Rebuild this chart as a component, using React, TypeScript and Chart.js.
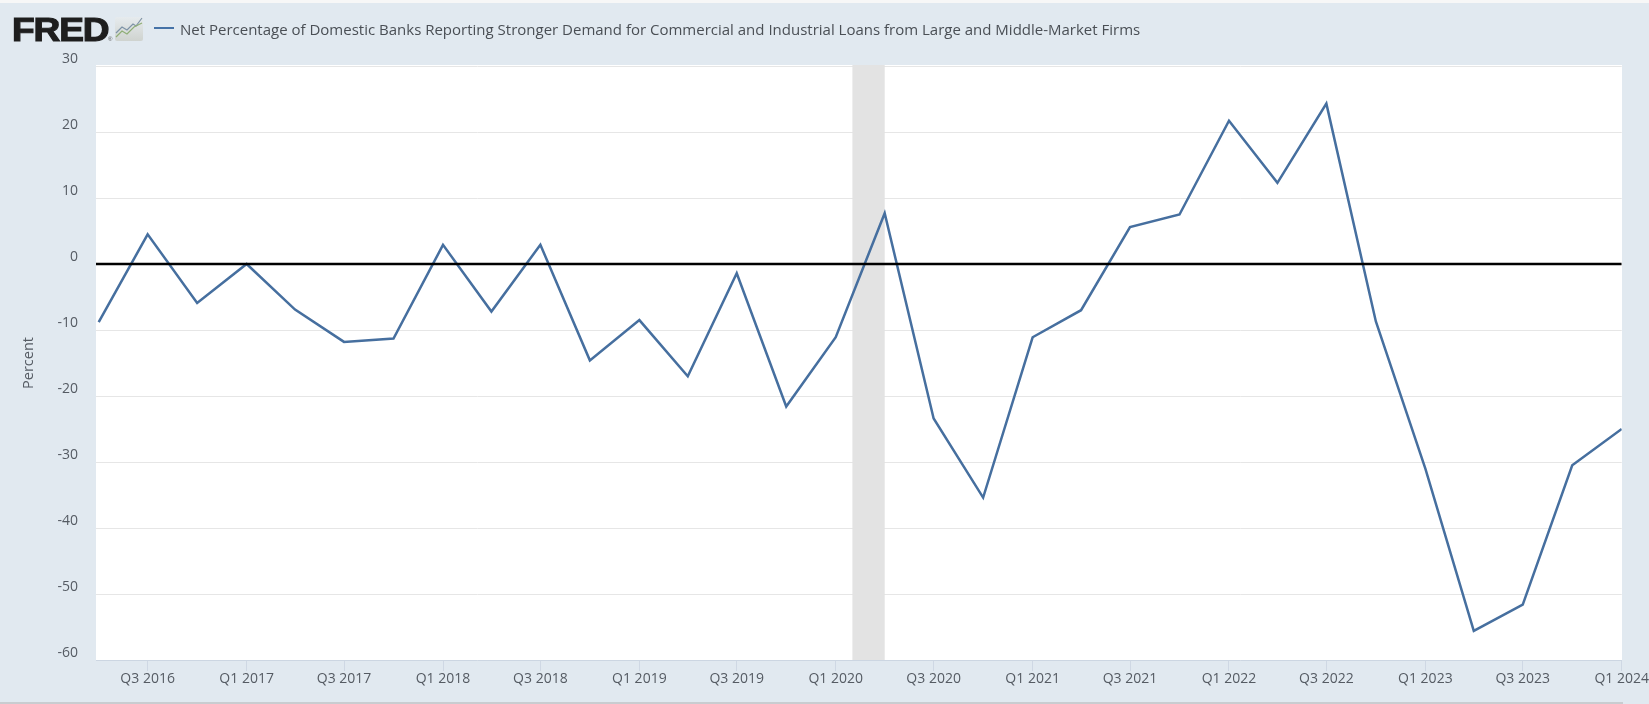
import React, { useEffect, useRef } from "react";
import { Chart, registerables } from "chart.js";

Chart.register(...registerables);

const quarters = [
  "Q2 2016","Q3 2016","Q4 2016","Q1 2017","Q2 2017","Q3 2017","Q4 2017","Q1 2018",
  "Q2 2018","Q3 2018","Q4 2018","Q1 2019","Q2 2019","Q3 2019","Q4 2019","Q1 2020",
  "Q2 2020","Q3 2020","Q4 2020","Q1 2021","Q2 2021","Q3 2021","Q4 2021","Q1 2022",
  "Q2 2022","Q3 2022","Q4 2022","Q1 2023","Q2 2023","Q3 2023","Q4 2023","Q1 2024",
];
const values = [
  -8.8, 4.5, -5.9, 0, -6.9, -11.8, -11.3, 2.9,
  -7.2, 2.9, -14.6, -8.5, -17, -1.4, -21.6, -11.1,
  7.7, -23.4, -35.4, -11.1, -7.0, 5.6, 7.5, 21.7,
  12.3, 24.3, -8.7, -31, -55.6, -51.6, -30.5, -25,
];
const tickLabels = [
  "Q3 2016","Q1 2017","Q3 2017","Q1 2018","Q3 2018","Q1 2019","Q3 2019","Q1 2020",
  "Q3 2020","Q1 2021","Q3 2021","Q1 2022","Q3 2022","Q1 2023","Q3 2023","Q1 2024",
];
const yTicks = [30, 20, 10, 0, -10, -20, -30, -40, -50, -60];
const recession = [Date.UTC(2020, 1, 1), Date.UTC(2020, 3, 1)];
const seriesName =
  "Net Percentage of Domestic Banks Reporting Stronger Demand for Commercial and Industrial Loans from Large and Middle-Market Firms";

const quarterTime = (q: string) => {
  const [p, y] = q.split(" ");
  return Date.UTC(Number(y), (Number(p[1]) - 1) * 3, 1);
};

const FONT = '"Open Sans", sans-serif';
const BG = "#e1e9f0";
const TEXT = "#555b63";

const backdrop = {
  id: "backdrop",
  beforeDatasetsDraw(chart: any) {
    const { ctx, chartArea: a, scales } = chart;
    ctx.save();
    ctx.fillStyle = "#e3e3e3";
    const x0 = scales.x.getPixelForValue(recession[0]);
    const x1 = scales.x.getPixelForValue(recession[1]);
    ctx.fillRect(x0, a.top - 1, x1 - x0, a.bottom - a.top + 1);
    ctx.restore();
  },
};

export default function App() {
  const ref = useRef<HTMLCanvasElement>(null);
  useEffect(() => {
    const times = quarters.map(quarterTime);
    const points = times.map((t, i) => ({ x: t, y: values[i] }));
    const min = times[0] - 5 * 86400000;
    const max = times[times.length - 1];
    const chart = new Chart(ref.current!, {
      type: "line",
      data: {
        datasets: [
          {
            label: seriesName,
            data: points,
            borderColor: "#466f9f",
            borderWidth: 2.5,
            pointRadius: 0,
            tension: 0,
            order: 1,
          },
          {
            label: "Zero",
            data: [{ x: min, y: 0 }, { x: max, y: 0 }],
            borderColor: "#000000",
            borderWidth: 2.4,
            pointRadius: 0,
            order: 0,
          },
        ],
      },
      options: {
        animation: false,
        responsive: false,
        layout: { padding: { top: 66, right: 27, left: 0, bottom: 0 } },
        plugins: { legend: { display: false }, tooltip: { enabled: false } },
        scales: {
          x: {
            type: "linear",
            min,
            max,
            afterBuildTicks(s: any) {
              s.ticks = tickLabels.map((l) => ({ value: quarterTime(l), label: l }));
            },
            afterFit(s: any) {
              s.height = 44;
            },
            grid: {
              drawOnChartArea: false,
              drawTicks: true,
              tickLength: 11,
              color: "#cfd8e4",
            },
            border: { color: "#ccd6e2", width: 1 },
            ticks: {
              autoSkip: false,
              maxRotation: 0,
              minRotation: 0,
              padding: 0,
              color: TEXT,
              font: { family: FONT, size: 14 },
              callback(v: any) {
                const i = tickLabels.findIndex((l) => quarterTime(l) === v);
                return i >= 0 ? tickLabels[i] : "";
              },
            },
          },
          y: {
            min: -60,
            max: 30,
            afterBuildTicks(s: any) {
              s.ticks = yTicks.map((value) => ({ value }));
            },
            afterFit(s: any) {
              s.width = 96;
            },
            title: {
              display: true,
              text: "Percent",
              color: TEXT,
              font: { family: FONT, size: 14.5 },
              padding: { top: 20, bottom: 0 },
            },
            grid: { color: "#e6e6e6", lineWidth: 1, drawTicks: false },
            border: { display: false },
            ticks: {
              padding: 18,
              labelOffset: -7,
              color: TEXT,
              font: { family: FONT, size: 14 },
              callback: (v: any) => String(v),
            },
          },
        },
      },
      plugins: [backdrop],
    } as any);
    return () => chart.destroy();
  }, []);

  return (
    <div style={{ position: "fixed", left: 0, top: 0, width: 1649, height: 704, background: BG, overflow: "hidden" }}>
      <div style={{ position: "absolute", left: 0, top: 0, width: 1649, height: 3, background: "#f7f7f7" }} />
      <div style={{ position: "absolute", left: 96, top: 65, width: 1526, height: 595, background: "#fff" }} />
      <div style={{ position: "absolute", left: 0, top: 702, width: 1623, height: 2, background: "#c9ccd0" }} />
      <canvas ref={ref} width={1649} height={704} style={{ position: "absolute", left: 0, top: 0, display: "block" }} />
      <div
        style={{
          position: "absolute", left: 12, top: 9, fontFamily: '"Liberation Sans", sans-serif', fontWeight: 900,
          fontSize: 34, lineHeight: "40px", letterSpacing: -1, color: "#1e1e1e",
          WebkitTextStroke: "1.2px #1e1e1e", transform: "scaleX(1.09)", transformOrigin: "left center",
        }}
      >
        FRED
      </div>
      <div style={{ position: "absolute", left: 108, top: 35, fontFamily: '"Liberation Sans", sans-serif', fontSize: 6, lineHeight: "8px", color: "#555" }}>®</div>
      <svg width="29" height="25" viewBox="0 0 29 25" style={{ position: "absolute", left: 115, top: 17 }}>
        <defs>
          <linearGradient id="iconBg" x1="0" y1="0" x2="0" y2="1">
            <stop offset="0" stopColor="#e6ebee" />
            <stop offset="1" stopColor="#cfd3cf" />
          </linearGradient>
        </defs>
        <rect x="0" y="0" width="28" height="24" rx="2" fill="url(#iconBg)" />
        <polyline points="1,16 7,10 12,13 18,7 21,9 27,1" fill="none" stroke="#7e93a6" strokeWidth="1.2" />
        <polyline points="1,20 7,14 12,17 19,10 27,6" fill="none" stroke="#8fae76" strokeWidth="1.2" />
      </svg>
      <div style={{ position: "absolute", left: 154, top: 27, width: 20, height: 2, background: "#4572a7" }} />
      <div
        style={{
          position: "absolute", left: 180, top: 18, fontFamily: FONT, fontSize: 15, lineHeight: "22px",
          color: "#4a4f55", whiteSpace: "nowrap",
        }}
      >
        {seriesName}
      </div>
    </div>
  );
}
